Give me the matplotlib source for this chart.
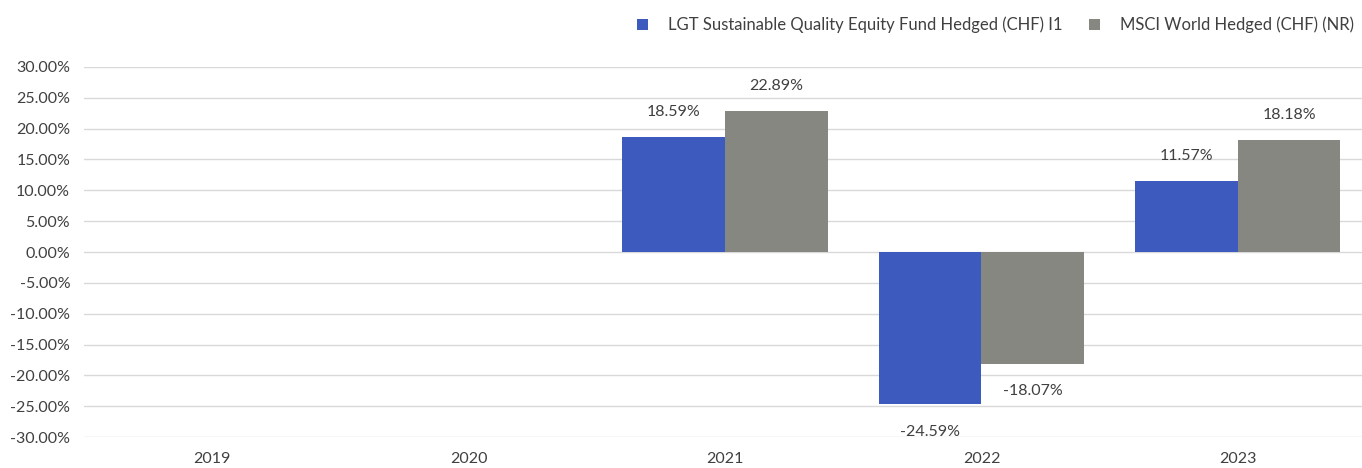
import numpy as np
import matplotlib
matplotlib.use("Agg")
import matplotlib.pyplot as plt
import matplotlib.ticker as mticker

# ── Data ──────────────────────────────────────────────────────────────────────
years = ["2019", "2020", "2021", "2022", "2023"]
fund  = [np.nan, np.nan, 18.59, -24.59, 11.57]
bench = [np.nan, np.nan, 22.89, -18.07, 18.18]
fund_label  = "LGT Sustainable Quality Equity Fund Hedged (CHF) I1"
bench_label = "MSCI World Hedged (CHF) (NR)"

# ── Style ─────────────────────────────────────────────────────────────────────
BLUE  = "#3d5bbf"
GREY  = "#878782"
TEXT  = "#404040"
GRID  = "#d9d9d9"

plt.rcParams["font.family"] = ["Lato", "DejaVu Sans"]
plt.rcParams["font.size"] = 11.5

fig = plt.figure(figsize=(13.62, 4.68), dpi=100)
ax = fig.add_axes([0.0617, 0.066, 0.9413, 0.791])

x = np.arange(len(years))
width = 0.4
b1 = ax.bar(x - width / 2, fund, width, color=BLUE, label=fund_label, zorder=3)
b2 = ax.bar(x + width / 2, bench, width, color=GREY, label=bench_label, zorder=3)

for bars, vals in ((b1, fund), (b2, bench)):
    for bar, v in zip(bars, vals):
        if np.isnan(v):
            continue
        off = 18 if v >= 0 else -20
        ax.annotate(f"{v:.2f}%", (bar.get_x() + bar.get_width() / 2, v),
                    xytext=(0, off), textcoords="offset points",
                    ha="center", va="center", color=TEXT, fontsize=11.5)

ax.set_xlim(-0.5, len(years) - 0.5)
ax.set_ylim(-30, 30)
ax.yaxis.set_major_locator(mticker.MultipleLocator(5))
ax.yaxis.set_major_formatter(mticker.FuncFormatter(lambda v, _: f"{v:.2f}%"))
ax.set_xticks(x)
ax.set_xticklabels(years)
ax.tick_params(axis="both", length=0, colors=TEXT, labelsize=11.5)
ax.tick_params(axis="y", pad=10)
ax.tick_params(axis="x", pad=11)
ax.grid(axis="y", color=GRID, linewidth=1, zorder=0)
for s in ax.spines.values():
    s.set_visible(False)

fig.legend(handles=[b1, b2], loc="center right", bbox_to_anchor=(0.999, 0.947),
           ncol=2, frameon=False,
           handlelength=0.65, handleheight=0.65, handletextpad=1.2,
           columnspacing=1.6, fontsize=12, labelcolor=TEXT, borderaxespad=0)

fig.savefig("out.png", dpi=100)
